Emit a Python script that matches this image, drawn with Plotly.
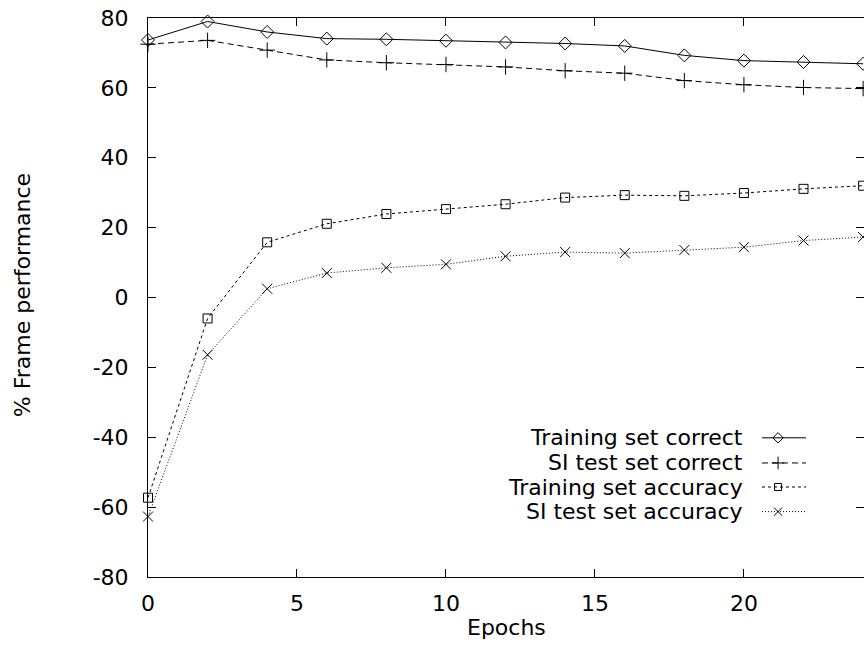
import plotly.graph_objects as go

epochs = [0, 2, 4, 6, 8, 10, 12, 14, 16, 18, 20, 22, 24]
train_correct = [73.7, 79.0, 76.0, 74.1, 73.9, 73.5, 73.0, 72.7, 72.0, 69.3, 67.8, 67.4, 66.9]
si_correct = [72.5, 73.6, 70.8, 68.0, 67.2, 66.7, 66.0, 64.9, 64.2, 62.1, 60.9, 60.1, 59.8]
train_accuracy = [-57.3, -6.0, 15.8, 21.1, 23.9, 25.3, 26.7, 28.6, 29.3, 29.1, 29.9, 31.1, 32.0]
si_accuracy = [-62.7, -16.4, 2.5, 7.0, 8.5, 9.5, 11.8, 13.0, 12.7, 13.6, 14.4, 16.3, 17.3]

x_ticks = [0, 5, 10, 15, 20]
y_ticks = [-80, -60, -40, -20, 0, 20, 40, 60, 80]
y_tick_labels = [str(v) for v in y_ticks]   # plain hyphen-minus as in the original

series_names = ["Training set correct", "SI test set correct",
                "Training set accuracy", "SI test set accuracy"]
series_vals = [train_correct, si_correct, train_accuracy, si_accuracy]
symbols = ["diamond-open", "cross-thin-open", "square-open", "x-thin-open"]
dashes = ["solid", "6px,4px", "3px,3px", "1px,2px"]
msizes = [10, 11, 9, 10]

FONT = "DejaVu Sans, sans-serif"
FS = 22
fig = go.Figure()

for name, vals, sym, dash, ms in zip(series_names, series_vals, symbols, dashes, msizes):
    fig.add_trace(go.Scatter(
        x=epochs, y=vals, mode="lines+markers", name=name,
        line=dict(color="black", width=1, dash=dash),
        marker=dict(symbol=sym, size=ms, color="black", line=dict(color="black", width=1)),
        showlegend=False, cliponaxis=False))

# manual gnuplot-style legend (text then sample) on an overlay axis in [0,1]
leg_y = [0.249, 0.204, 0.161, 0.117]
for name, sym, dash, ms, ly in zip(series_names, symbols, dashes, msizes, leg_y):
    fig.add_trace(go.Scatter(x=[0.8575, 0.919], y=[ly, ly], mode="lines",
                             line=dict(color="black", width=1, dash=dash),
                             xaxis="x2", yaxis="y2", showlegend=False, hoverinfo="skip"))
    fig.add_trace(go.Scatter(x=[0.88], y=[ly], mode="markers",
                             marker=dict(symbol=sym, size=ms - 2, color="black",
                                         line=dict(color="black", width=1)),
                             xaxis="x2", yaxis="y2", showlegend=False, hoverinfo="skip"))
    fig.add_annotation(x=0.834, y=ly, xref="paper", yref="paper", text=name,
                       showarrow=False, xanchor="right", yanchor="middle",
                       font=dict(family=FONT, size=22, color="black"))

fig.add_annotation(x=0.5007, y=0, xref="paper", yref="paper", yshift=-50, text="Epochs",
                   showarrow=False, xanchor="center", yanchor="middle",
                   font=dict(family=FONT, size=FS, color="black"))
fig.add_annotation(x=-0.1753, y=0.505, xref="paper", yref="paper", text="% Frame performance",
                   textangle=-90, showarrow=False, xanchor="center", yanchor="middle",
                   font=dict(family=FONT, size=FS, color="black"))

fig.update_layout(
    width=864, height=646,
    margin=dict(l=148, r=0, t=18, b=69),
    paper_bgcolor="white", plot_bgcolor="white",
    font=dict(family=FONT, size=FS, color="black"),
    xaxis=dict(range=[0, 24.03], tickvals=x_ticks, showgrid=False, zeroline=False,
               showline=True, linecolor="black", linewidth=1, mirror="allticks",
               ticks="inside", ticklen=8, tickcolor="black", tickwidth=1,
               ticklabelstandoff=7),
    yaxis=dict(range=[-80, 80], tickvals=y_ticks, ticktext=y_tick_labels,
               showgrid=False, zeroline=False,
               showline=True, linecolor="black", linewidth=1, mirror="allticks",
               ticks="inside", ticklen=8, tickcolor="black", tickwidth=1,
               ticklabelstandoff=14),
    xaxis2=dict(range=[0, 1], overlaying="x", visible=False),
    yaxis2=dict(range=[0, 1], overlaying="y", visible=False),
)

fig.write_html("out.html")
